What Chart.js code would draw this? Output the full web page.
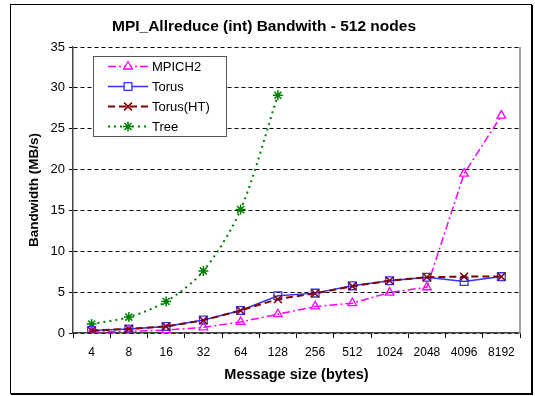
<!DOCTYPE html>
<html>
<head>
<meta charset="utf-8">
<script src="https://cdn.jsdelivr.net/npm/chart.js@4"></script>
<style>
html,body{margin:0;padding:0;background:#fff;}
#wrap{width:535px;height:396px;}
</style>
</head>
<body>
<div id="wrap"><canvas id="c" width="535" height="396"></canvas></div>
<script>
const categories = ['4','8','16','32','64','128','256','512','1024','2048','4096','8192'];
const mpich2  = [0.1, 0.2, 0.35, 0.7, 1.35, 2.3, 3.25, 3.65, 4.95, 5.6, 19.5, 26.6];
const torus   = [0.3, 0.5, 0.8, 1.6, 2.75, 4.55, 4.88, 5.77, 6.4, 6.83, 6.3, 6.9];
const torusHT = [0.3, 0.5, 0.8, 1.55, 2.75, 4.15, 4.85, 5.72, 6.4, 6.83, 6.9, 6.9];
const tree    = [1.1, 1.95, 3.85, 7.6, 15.1, 29.1];
const yTicks  = [0, 5, 10, 15, 20, 25, 30, 35];

const FONT = "'Liberation Sans', Arial, sans-serif";

const framePlugin = {
  id: 'frame',
  beforeDraw(chart) {
    const ctx = chart.ctx;
    ctx.save();
    ctx.fillStyle = '#fff';
    ctx.fillRect(0, 0, chart.width, chart.height);
    ctx.restore();
  },
  afterDraw(chart) {
    const ctx = chart.ctx;
    const a = chart.chartArea;
    ctx.save();
    // plot area right border (gray)
    ctx.strokeStyle = '#a0a0a0';
    ctx.lineWidth = 2;
    ctx.beginPath();
    ctx.moveTo(a.right, a.top);
    ctx.lineTo(a.right, a.bottom);
    ctx.stroke();
    // outer frame
    ctx.strokeStyle = '#000';
    ctx.lineWidth = 1;
    ctx.strokeRect(10.5, 4.5, 521, 389);
    ctx.beginPath();
    ctx.moveTo(532.5, 5); ctx.lineTo(532.5, 395);
    ctx.moveTo(11, 394.5); ctx.lineTo(533, 394.5);
    ctx.stroke();
    // title
    ctx.fillStyle = '#000';
    ctx.font = "bold 15.5px " + FONT;
    ctx.textAlign = 'center';
    ctx.textBaseline = 'middle';
    ctx.fillText('MPI_Allreduce (int) Bandwith - 512 nodes', 264, 27);

    // legend
    const bx = 93.5, by = 56.5, bw = 133, bh = 80;
    ctx.fillStyle = '#fff';
    ctx.fillRect(bx, by, bw, bh);
    ctx.strokeStyle = '#555';
    ctx.lineWidth = 1;
    ctx.strokeRect(bx, by, bw, bh);
    const rows = [66.5, 86.5, 106.5, 126.5];
    chart.data.datasets.forEach((ds, i) => {
      const y = rows[i];
      ctx.save();
      ctx.strokeStyle = ds.borderColor;
      ctx.lineWidth = ds.borderWidth;
      ctx.setLineDash(ds.borderDash || []);
      ctx.beginPath();
      ctx.moveTo(108, y);
      ctx.lineTo(148, y);
      ctx.stroke();
      ctx.setLineDash([]);
      ctx.strokeStyle = ds.pointBorderColor;
      ctx.fillStyle = '#fff';
      ctx.lineWidth = ds.pointBorderWidth;
      Chart.helpers.drawPoint(ctx, {pointStyle: ds.pointStyle, radius: ds.pointRadius, borderWidth: ds.pointBorderWidth, rotation: 0}, 128, y);
      ctx.restore();
      ctx.fillStyle = '#000';
      ctx.font = "13px " + FONT;
      ctx.textAlign = 'left';
      ctx.textBaseline = 'middle';
      ctx.fillText(ds.label, 152, y + 0.5);
    });
    ctx.restore();
  }
};

new Chart(document.getElementById('c'), {
  type: 'line',
  data: {
    labels: categories,
    datasets: [
      {
        label: 'MPICH2', data: mpich2, order: 2,
        borderColor: '#ff00ff', borderWidth: 1.5, borderDash: [8, 3, 2, 3],
        pointStyle: 'triangle', pointRadius: 5, pointBorderColor: '#ff00ff',
        pointBackgroundColor: 'rgba(255,255,255,0)', pointBorderWidth: 1.3, tension: 0
      },
      {
        label: 'Torus', data: torus, order: 1,
        borderColor: '#3333ff', borderWidth: 1.5,
        pointStyle: 'rect', pointRadius: 5.5, pointBorderColor: '#3333ff',
        pointBackgroundColor: 'rgba(255,255,255,0)', pointBorderWidth: 1.3, tension: 0
      },
      {
        label: 'Torus(HT)', data: torusHT, order: 0,
        borderColor: '#800000', borderWidth: 2, borderDash: [7, 4],
        pointStyle: 'crossRot', pointRadius: 5.5, pointBorderColor: '#800000',
        pointBackgroundColor: '#800000', pointBorderWidth: 1.5, tension: 0
      },
      {
        label: 'Tree', data: tree, order: 3,
        borderColor: '#008000', borderWidth: 2, borderDash: [2, 4],
        pointStyle: 'star', pointRadius: 5, pointBorderColor: '#008000',
        pointBackgroundColor: '#008000', pointBorderWidth: 1.5, tension: 0.3
      }
    ]
  },
  options: {
    responsive: false,
    animation: false,
    layout: { padding: { top: 47, left: 10, right: 15, bottom: 0 } },
    plugins: { legend: { display: false }, title: { display: false }, tooltip: { enabled: false } },
    scales: {
      x: {
        type: 'category',
        offset: true,
        grid: { offset: true, drawOnChartArea: false, drawTicks: true, tickLength: 5, color: '#000', tickColor: '#000' },
        border: { display: true, color: '#444', width: 1.5 },
        ticks: { color: '#000', font: { family: FONT, size: 12 }, padding: 7, maxRotation: 0, autoSkip: false },
        title: { display: true, text: 'Message size (bytes)', color: '#000', font: { family: FONT, size: 14.5, weight: 'bold' }, padding: { top: 0, bottom: 12 } },
        afterFit(s) { s.height = 63; }
      },
      y: {
        min: 0, max: 35,
        afterBuildTicks(s) { s.ticks = yTicks.map(v => ({ value: v })); },
        grid: {
          color: '#000', lineWidth: 1, tickLength: 4,
          tickColor: '#000', tickBorderDash: [],
          drawTicks: true
        },
        border: { display: true, color: '#444', width: 1.5, dash: [4, 3] },
        ticks: { color: '#000', font: { family: FONT, size: 13 }, padding: 4 },
        title: { display: true, text: 'Bandwidth (MB/s)', color: '#000', font: { family: FONT, size: 13.5, weight: 'bold' }, padding: { top: 16, bottom: 0 } },
        afterFit(s) { s.width = 63; }
      }
    }
  },
  plugins: [framePlugin]
});
</script>
</body>
</html>
